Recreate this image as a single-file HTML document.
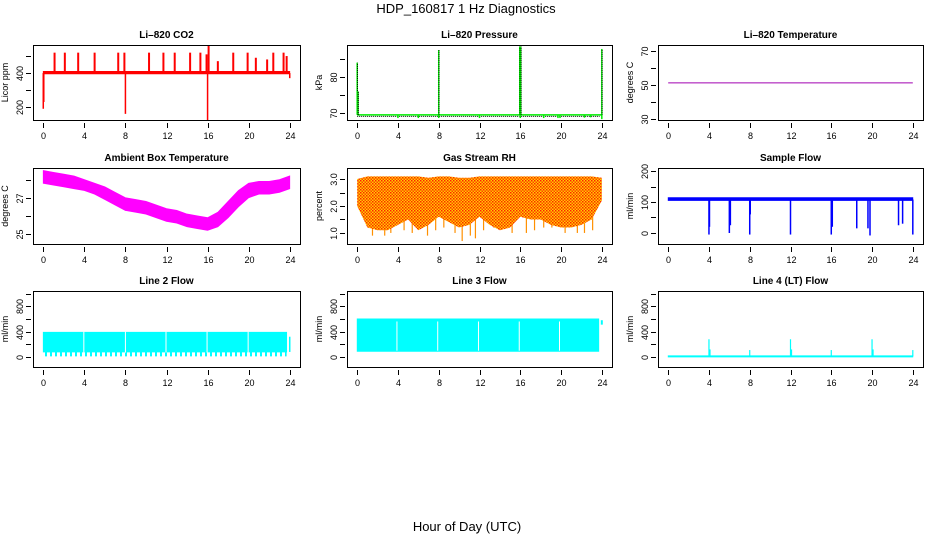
<!DOCTYPE html>
<html><head><meta charset="utf-8">
<style>
html,body{margin:0;padding:0;background:#fff;}
svg{display:block;font-family:"Liberation Sans",Arial,sans-serif;}
</style></head>
<body>
<svg id="chart" width="936" height="540" viewBox="0 0 936 540" xmlns="http://www.w3.org/2000/svg">
<defs>
<pattern id="rhpat" width="3" height="3" patternUnits="userSpaceOnUse">
<rect width="3" height="3" fill="#ffd000"/><rect x="0" y="0" width="1.5" height="1.5" fill="#ff2000"/><rect x="1.5" y="1.5" width="1.5" height="1.5" fill="#ff4000"/>
</pattern>
<pattern id="dippat" width="5" height="10" patternUnits="userSpaceOnUse">
<rect x="0" y="0" width="2" height="10" fill="#00ffff"/>
</pattern>
</defs>
<text x="466" y="13" font-size="13" text-anchor="middle">HDP_160817  1 Hz Diagnostics</text>
<text x="467" y="531" font-size="13" text-anchor="middle">Hour of Day (UTC)</text>
<g id="panels"></g>
</svg>
<script>
// ---------- data ----------
const xTicks = [0,4,8,12,16,20,24];
// CO2
const co2BandT = [0,24];
const co2BandLo = [395,395];
const co2BandHi = [410,410];
const co2SpikeT = [1.1,2.1,3.4,5.0,7.3,7.9,10.3,11.7,12.8,14.3,15.3,15.9,16.1,17.0,18.5,19.9,20.7,21.8,22.4,23.4,23.7];
const co2SpikeV = [520,520,520,520,520,520,520,520,520,520,520,510,560,470,520,520,490,480,520,520,500];
const co2DownT = [0,0.05,8,16,24];
const co2DownV = [190,230,160,124,370];
// Pressure
const presBase = [69.5];
const presSpikeT = [0.0,0.08,8,15.95,16.05,24];
const presSpikeV = [84,76,87.5,88.5,88.5,87.8];
const presDipT = [4,6,8,12,16,18.3,19.7,19.9,22.3,22.9,24];
const presDipV = [68.6,68.6,68.6,68.6,68.6,68.6,68.6,68.6,68.7,68.8,68.3];
// Li-820 Temperature
const tempT = [0,24];
const tempV = [51.2,51.2];
// Ambient box temperature
const ambT  = [0,1,2,3,4,5,6,7,8,9,10,11,12,13,14,15,16,17,18,19,20,21,22,23,24];
const ambLo = [27.8,27.7,27.6,27.5,27.4,27.2,26.9,26.6,26.3,26.2,26.1,25.9,25.7,25.6,25.4,25.3,25.2,25.4,25.9,26.5,27.0,27.2,27.2,27.3,27.5];
const ambHi = [28.5,28.4,28.3,28.2,28.0,27.8,27.6,27.3,27.0,26.9,26.8,26.6,26.4,26.3,26.1,26.0,25.9,26.2,26.8,27.4,27.8,27.9,27.9,28.0,28.2];
// Gas stream RH
const rhT  = [0,1,2,3,4,5,6,7,8,9,10,11,12,13,14,15,16,17,18,19,20,21,22,23,24];
const rhLo = [2.0,1.2,1.1,1.1,1.3,1.5,1.1,1.3,1.6,1.4,1.2,1.3,1.6,1.3,1.1,1.2,1.6,1.5,1.5,1.3,1.2,1.2,1.3,1.5,2.2];
const rhHi = [3.0,3.1,3.1,3.1,3.1,3.1,3.1,3.05,3.1,3.1,3.05,3.05,3.1,3.1,3.1,3.1,3.1,3.1,3.1,3.1,3.1,3.1,3.1,3.1,3.05];
const rhDropT = [1.5,2.7,3.3,4.6,5.4,6.9,7.7,8.5,9.6,10.3,11.1,11.6,12.4,13.4,14.6,15.2,16.6,17.4,18.3,19.1,20.4,21.6,22.3,23.1];
const rhDropV = [0.9,0.9,1.0,1.1,1.0,0.9,1.1,1.2,1.0,0.7,0.9,0.8,1.1,1.2,1.2,1.0,1.0,1.1,1.2,1.2,1.0,1.0,1.0,1.1];
// Sample flow
const sfBandT = [0,24];
const sfBandLo = [105,105];
const sfBandHi = [114,114];
const sfDropT = [4,4.05,6,6.1,8,8.05,12,16,16.1,18.5,19.6,19.8,22.6,23.0,24];
const sfDropV = [-5,20,0,25,-5,60,-5,-5,20,15,15,-8,25,30,-5];
// Line 2 flow
const l2BandT = [0,23.7];
const l2Lo = [80,80];
const l2Hi = [390,390];
const l2DipLo = [10];
const l2GapT = [3.95,8.0,11.95,15.95,19.95];
const l2EndT = [24.0];
const l2EndV = [320];
// Line 3 flow
const l3BandT = [0,23.7];
const l3Lo = [90,90];
const l3Hi = [600,600];
const l3GapT = [3.9,7.9,11.9,15.9,19.85];
const l3EndT = [24.0];
const l3EndV = [540];
// Line 4 flow
const l4BandT = [0,24];
const l4Lo = [0,0];
const l4Hi = [20,20];
const l4SpikeT = [4,4.1,8,12,12.1,16,20,20.1,24];
const l4SpikeV = [280,120,110,280,120,110,280,120,110];

// ---------- layout ----------
const NS = "http://www.w3.org/2000/svg";
const root = document.getElementById('panels');
const cols = [[33,300],[347,612],[658,923]];
const rows = [[45,120],[168,244],[291,367]];
function mk(tag, attrs, parent){
  const e = document.createElementNS(NS, tag);
  for (const k in attrs) e.setAttribute(k, attrs[k]);
  (parent||root).appendChild(e);
  return e;
}
function panel(c, r, name, title, ylab, ylo, yhi, ticks, labels, dec){
  const p = {x0:cols[c][0], x1:cols[c][1], y0:rows[r][0], y1:rows[r][1], ylo, yhi};
  p.X = t => p.x0 + (t + 1) / 26 * (p.x1 - p.x0);
  p.Y = v => p.y1 - (v - ylo) / (yhi - ylo) * (p.y1 - p.y0);
  const g = mk('g', {});
  
  
  p.g = g;
  const tt = mk('text', {x:(p.x0+p.x1)/2, y:p.y0-7, 'font-size':10, 'font-weight':'bold', 'text-anchor':'middle'}, g);
  tt.textContent = title;
  
  
  const yl = mk('text', {x:0, y:0, 'font-size':9, 'text-anchor':'middle', transform:`translate(${p.x0-25},${(p.y0+p.y1)/2}) rotate(-90)`}, g);
  yl.textContent = ylab;
  
  
  const xa = mk('g', {stroke:'#000','stroke-width':1}, g);
  
  
  xTicks.forEach(t => {
    const x = Math.round(p.X(t)) + 0.5;
    mk('line', {x1:x, x2:x, y1:p.y1+3, y2:p.y1+8}, xa);
    const lt = mk('text', {x:x, y:p.y1+19, 'font-size':9, 'text-anchor':'middle', stroke:'none'}, xa);
    lt.textContent = t;
    
    
  });
  const ya = mk('g', {stroke:'#000','stroke-width':1}, g);
  
  
  ticks.forEach(v => {
    const y = Math.round(p.Y(v)) + 0.5;
    mk('line', {x1:p.x0-7, x2:p.x0-2, y1:y, y2:y}, ya);
    if (labels.indexOf(v) >= 0) {
      const lt = mk('text', {x:0, y:0, 'font-size':9, 'text-anchor':'middle', stroke:'none', transform:`translate(${p.x0-10},${y}) rotate(-90)`}, ya);
      lt.textContent = dec ? v.toFixed(dec) : v;
      
      
    }
  });
  return p;
}
function frame(p){
  const b = mk('rect', {x:p.x0+0.5, y:p.y0+0.5, width:p.x1-p.x0, height:p.y1-p.y0, fill:'none', stroke:'#000', 'stroke-width':1}, p.g);
  
  
}
function band(p, T, lo, hi, fill, name){
  let pts = T.map((t,i)=>p.X(t)+','+p.Y(hi[i]));
  for (let i=T.length-1;i>=0;i--) pts.push(p.X(T[i])+','+p.Y(lo[i]));
  const e = mk('polygon', {points:pts.join(' '), fill:fill, stroke:fill==='url(#rhpat)'?'none':fill, 'stroke-width':0.8}, p.g);
  
  
  return e;
}
function vseg(p, t, a, b, color, w, name){
  const x = p.X(t);
  const e = mk('line', {x1:x, x2:x, y1:p.Y(a), y2:p.Y(b), stroke:color, 'stroke-width':w}, p.g);
  
  
  return e;
}

// Panel 1: CO2
let p = panel(0,0,'co2','Li\u2013820 CO2','Licor ppm',124,565,[200,300,400,500],[200,400]);
band(p, co2BandT, co2BandLo, co2BandHi, '#ff0000', 'co2-band');
co2SpikeT.forEach((t,i)=>vseg(p, t, 400, co2SpikeV[i], '#ff0000', 2, 'co2-spike'));
co2DownT.forEach((t,i)=>vseg(p, t, 400, co2DownV[i], '#ff0000', 1.5, 'co2-drop'));
frame(p);

// Panel 2: Pressure
p = panel(1,0,'pressure','Li\u2013820 Pressure','kPa',68.06,88.9,[70,75,80,85],[70,80]);
{
  const y = p.Y(presBase[0]);
  let e = mk('line',{x1:p.X(0),x2:p.X(24),y1:y,y2:y,stroke:'#00ee00','stroke-width':1.5},p.g);
  
  
  e = mk('line',{x1:p.X(0),x2:p.X(23.8),y1:y+1.5,y2:y+1.5,stroke:'#000','stroke-width':1,'stroke-dasharray':'1 1'},p.g);
  
  
}
presSpikeT.forEach((t,i)=>{vseg(p,t,presBase[0],presSpikeV[i],'#00ee00',1.5,'pressure-spike'); vseg(p,t+0.03,presBase[0],presSpikeV[i],'#000',1,'pressure-spike-dots').setAttribute('stroke-dasharray','1 1');});
presDipT.forEach((t,i)=>vseg(p,t,presBase[0],presDipV[i],'#00ee00',1.5,'pressure-dip'));
frame(p);

// Panel 3: Li-820 Temperature
p = panel(2,0,'li820-temp','Li\u2013820 Temperature','degrees C',29.6,73.3,[30,40,50,60,70],[30,50,70]);
{
  const e = mk('polyline',{points:tempT.map((t,i)=>p.X(t)+','+p.Y(tempV[i])).join(' '),fill:'none',stroke:'#a000b0','stroke-width':1},p.g);
  
  
}
frame(p);

// Panel 4: Ambient box temperature
p = panel(0,1,'ambient-temp','Ambient Box Temperature','degrees C',24.45,28.64,[25,26,27,28],[25,27]);
band(p, ambT, ambLo, ambHi, '#ff00ff', 'ambient-temp-band');
frame(p);

// Panel 5: RH
p = panel(1,1,'rh','Gas Stream RH','percent',0.59,3.41,[1.0,1.5,2.0,2.5,3.0],[1.0,2.0,3.0],1);
rhDropT.forEach((t,i)=>vseg(p,t,2.0,rhDropV[i],'#ff9000',1.2,'rh-drop'));
band(p, rhT, rhLo, rhHi, 'url(#rhpat)', 'rh-band');
frame(p);

// Panel 6: Sample flow
p = panel(2,1,'sample-flow','Sample Flow','ml/min',-35.5,209.7,[0,50,100,150,200],[0,100,200]);
band(p, sfBandT, sfBandLo, sfBandHi, '#0000ff', 'sample-flow-band');
sfDropT.forEach((t,i)=>vseg(p,t,108,sfDropV[i],'#0000ff',1.5,'sample-flow-drop'));
frame(p);

// Panel 7: Line 2 flow
p = panel(0,2,'line2-flow','Line 2 Flow','ml/min',-157,1040,[0,200,400,600,800,1000],[0,400,800]);
band(p, l2BandT, [l2DipLo[0],l2DipLo[0]], l2Lo, 'url(#dippat)', 'line2-dips').setAttribute('stroke','none');
band(p, l2BandT, l2Lo, l2Hi, '#00ffff', 'line2-band');
l2GapT.forEach(t=>vseg(p,t,l2Lo[0]-10,l2Hi[0]+10,'#ffffff',1,'line2-gap'));
l2EndT.forEach((t,i)=>vseg(p,t,l2Lo[0],l2EndV[i],'#00ffff',1.5,'line2-end'));
frame(p);

// Panel 8: Line 3 flow
p = panel(1,2,'line3-flow','Line 3 Flow','ml/min',-157,1040,[0,200,400,600,800,1000],[0,400,800]);
band(p, l3BandT, l3Lo, l3Hi, '#00ffff', 'line3-band');
l3GapT.forEach(t=>vseg(p,t,l3Lo[0]+10,l3Hi[0]-40,'#ffffff',1,'line3-gap'));
l3EndT.forEach((t,i)=>vseg(p,t,l3EndV[i]-30,l3EndV[i]+40,'#00ffff',2,'line3-end'));
frame(p);

// Panel 9: Line 4 flow
p = panel(2,2,'line4-flow','Line 4 (LT) Flow','ml/min',-157,1040,[0,200,400,600,800,1000],[0,400,800]);
band(p, l4BandT, l4Lo, l4Hi, '#00ffff', 'line4-band');
l4SpikeT.forEach((t,i)=>vseg(p,t,10,l4SpikeV[i],'#00ffff',1.2,'line4-spike'));
frame(p);
</script>
</body></html>
